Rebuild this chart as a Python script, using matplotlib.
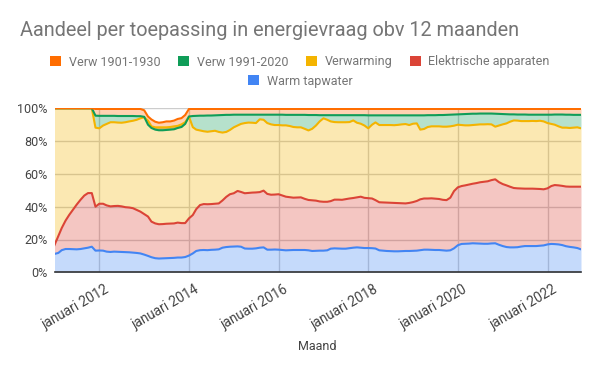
import numpy as np
import pandas as pd
import matplotlib
matplotlib.use('Agg')
import matplotlib.pyplot as plt
import matplotlib.transforms as mtransforms
from matplotlib.patches import Patch

plt.rcParams['font.family'] = ['Roboto', 'DejaVu Sans']

# maanden jan 2011 t/m okt 2022
maanden = pd.date_range('2011-01-01', '2022-10-01', freq='MS')

warm_tapwater = [
    11.2, 11.8, 13.5, 14.2, 14.2, 14.1, 14.0, 14.2, 14.6, 15.0, 15.6, 13.2,
    13.3, 13.2, 12.6, 12.4, 12.6, 12.5, 12.4, 12.3, 12.2, 12.0, 11.8, 11.5,
    10.8, 10.0, 9.2, 8.6, 8.4, 8.5, 8.6, 8.7, 8.8, 9.0, 9.0, 9.3,
    10.2, 11.5, 13.0, 13.5, 13.6, 13.5, 13.7, 13.8, 14.0, 15.0, 15.4, 15.6,
    15.7, 15.8, 15.6, 14.5, 14.4, 14.4, 14.6, 15.0, 15.2, 13.8, 13.8, 13.9,
    13.8, 13.6, 13.4, 13.5, 13.6, 13.6, 13.6, 13.6, 13.4, 13.0, 13.1, 13.2,
    13.2, 13.4, 14.4, 14.6, 14.5, 14.4, 14.4, 14.7, 15.0, 15.2, 15.0, 14.8,
    14.8, 14.7, 14.5, 13.4, 13.2, 13.0, 12.9, 12.8, 12.8, 12.9, 13.0, 13.0,
    13.1, 13.2, 13.5, 13.8, 13.8, 13.7, 13.6, 13.6, 13.4, 13.2, 13.4, 14.6,
    16.5, 17.3, 17.4, 17.5, 17.7, 17.6, 17.5, 17.4, 17.4, 17.6, 17.7, 16.8,
    16.0, 15.4, 15.2, 15.2, 15.3, 15.7, 16.0, 16.0, 16.0, 16.0, 16.2, 16.4,
    17.0, 17.3, 17.2, 17.0, 16.6, 15.9, 15.5, 15.2, 14.8, 14.0]

elektrische_apparaten = [
    5.4, 10.2, 13.5, 17.3, 20.8, 24.1, 27.3, 30.0, 32.2, 33.3, 32.7, 26.8,
    28.5, 28.6, 28.2, 27.8, 27.8, 28.0, 27.8, 27.4, 27.3, 27.1, 26.2, 25.5,
    24.7, 24.0, 21.7, 21.2, 20.9, 20.9, 21.0, 21.0, 21.0, 21.3, 21.0, 20.7,
    22.7, 23.4, 25.5, 27.5, 28.0, 28.0, 27.9, 28.0, 28.0, 28.8, 30.6, 32.0,
    32.5, 33.8, 33.4, 33.7, 34.0, 34.2, 34.1, 33.9, 34.6, 34.0, 33.5, 33.5,
    33.8, 33.2, 32.7, 32.3, 31.9, 32.0, 32.1, 31.2, 30.7, 30.9, 30.6, 30.0,
    29.8, 29.6, 29.0, 29.7, 29.8, 29.8, 30.2, 30.3, 30.3, 30.5, 31.1, 30.6,
    30.4, 30.3, 29.5, 29.3, 29.4, 29.5, 29.5, 29.5, 29.4, 29.2, 29.0, 29.3,
    29.7, 30.3, 31.0, 31.2, 31.2, 31.4, 31.3, 31.1, 30.8, 30.8, 32.1, 34.9,
    35.3, 35.3, 35.6, 36.0, 36.3, 36.8, 37.4, 37.8, 38.1, 38.6, 39.0, 38.2,
    37.8, 37.6, 37.0, 36.2, 35.9, 35.4, 35.0, 35.0, 35.0, 34.9, 34.6, 34.2,
    34.2, 35.3, 36.0, 36.0, 36.1, 36.4, 36.7, 37.0, 37.4, 38.2]

verwarming = [
    83.4, 78.0, 73.0, 68.5, 65.0, 61.8, 58.7, 55.8, 53.2, 51.7, 51.7, 48.2,
    46.0, 47.7, 49.7, 51.3, 51.1, 50.8, 51.0, 51.8, 52.5, 53.3, 55.0, 56.9,
    59.0, 58.5, 58.1, 58.6, 59.1, 59.0, 58.8, 58.9, 59.2, 59.0, 60.2, 61.5,
    62.0, 53.6, 48.5, 45.5, 44.4, 44.2, 44.4, 44.5, 43.6, 41.4, 39.6, 39.2,
    40.2, 39.9, 41.5, 42.8, 42.9, 42.6, 42.3, 44.4, 43.2, 43.2, 42.9, 42.4,
    42.2, 42.8, 43.5, 43.4, 43.1, 42.8, 42.7, 42.7, 42.4, 43.6, 45.8, 48.8,
    50.9, 50.0, 48.6, 47.3, 47.2, 47.3, 46.9, 46.6, 47.3, 45.5, 44.5, 44.1,
    42.6, 45.0, 47.4, 47.1, 47.2, 47.3, 47.4, 47.4, 47.7, 48.1, 48.4, 47.5,
    47.8, 47.3, 42.5, 42.4, 43.6, 43.9, 44.1, 44.3, 44.6, 44.8, 43.5, 39.9,
    38.2, 37.2, 36.6, 36.1, 35.8, 35.6, 35.3, 35.0, 34.8, 34.0, 32.1, 34.5,
    36.4, 37.8, 39.6, 41.2, 41.3, 41.1, 41.2, 41.2, 41.3, 41.3, 41.6, 41.4,
    39.8, 37.9, 36.8, 36.0, 35.5, 35.9, 35.8, 36.0, 36.2, 35.6]

verw_1991_2020 = [
    0, 0, 0, 0, 0, 0, 0, 0, 0, 0, 0, 7.3,
    7.6, 5.9, 4.9, 3.9, 3.9, 4.0, 4.1, 3.8, 3.3, 2.9, 2.2, 1.3,
    0.3, -2.5, -1.0, -1.4, -1.8, -1.8, -1.6, -1.6, -1.8, -1.3, -1.6, -1.0,
    0.1, 6.8, 8.4, 9.0, 9.5, 9.9, 9.6, 9.4, 10.2, 10.7, 10.4, 9.2,
    7.7, 6.6, 5.6, 5.1, 4.8, 4.9, 5.1, 2.8, 3.1, 5.1, 5.9, 6.3,
    6.3, 6.5, 6.4, 6.8, 7.4, 7.6, 7.6, 8.5, 9.4, 8.4, 6.4, 3.8,
    1.9, 2.8, 3.8, 4.2, 4.3, 4.3, 4.3, 4.2, 3.2, 4.6, 5.2, 6.3,
    7.9, 5.7, 4.3, 5.9, 5.9, 5.9, 5.9, 6.0, 5.8, 5.5, 5.3, 5.9,
    5.1, 4.9, 8.7, 8.3, 7.2, 6.8, 6.8, 6.9, 7.1, 7.2, 7.1, 6.8,
    6.3, 6.6, 6.9, 7.0, 6.9, 6.7, 6.6, 6.6, 6.5, 6.6, 7.9, 7.1,
    6.3, 5.6, 4.5, 3.7, 3.7, 4.0, 4.0, 3.9, 3.8, 3.9, 3.7, 4.1,
    5.1, 5.6, 6.2, 7.2, 8.0, 7.9, 8.1, 7.8, 7.6, 8.2]

verw_1901_1930 = [
    0, 0, 0, 0, 0, 0, 0, 0, 0, 0, 0, 4.1,
    4.2, 4.2, 4.2, 4.2, 4.2, 4.3, 4.3, 4.3, 4.3, 4.3, 4.4, 4.4,
    4.0, 5.0, 5.2, 4.8, 4.6, 4.9, 5.2, 5.0, 5.3, 5.5, 5.4, 5.4,
    4.6, 4.3, 4.2, 4.1, 4.1, 4.0, 4.0, 3.9, 3.8, 3.7, 3.6, 3.6,
    3.5, 3.5, 3.5, 3.5, 3.5, 3.5, 3.5, 3.5, 3.5, 3.5, 3.5, 3.5,
    3.5, 3.5, 3.6, 3.6, 3.6, 3.6, 3.6, 3.6, 3.7, 3.7, 3.7, 3.8,
    3.8, 3.8, 3.8, 3.8, 3.8, 3.8, 3.8, 3.8, 3.8, 3.8, 3.8, 3.8,
    3.9, 3.9, 3.9, 3.9, 3.9, 3.9, 3.9, 3.9, 3.9, 3.9, 3.9, 3.9,
    3.9, 3.9, 3.9, 3.9, 3.8, 3.8, 3.8, 3.7, 3.7, 3.6, 3.5, 3.4,
    3.3, 3.2, 3.1, 3.0, 2.9, 2.9, 2.8, 2.8, 2.8, 2.8, 2.9, 3.0,
    3.1, 3.2, 3.3, 3.3, 3.4, 3.4, 3.4, 3.5, 3.5, 3.5, 3.5, 3.5,
    3.5, 3.5, 3.4, 3.4, 3.4, 3.5, 3.5, 3.6, 3.6, 3.6]

reeksen = ['Warm tapwater', 'Elektrische apparaten', 'Verwarming',
           'Verw 1991-2020', 'Verw 1901-1930']
kleuren = ['#4285F4', '#DB4437', '#F4B400', '#0F9D58', '#FF6D00']
tick_jaren = [2012, 2014, 2016, 2018, 2020, 2022]
y_ticks = [0, 20, 40, 60, 80, 100]

waarden = np.array([warm_tapwater, elektrische_apparaten, verwarming,
                    verw_1991_2020, verw_1901_1930])
boven = np.cumsum(waarden, axis=0)
onder = np.vstack([np.zeros(len(maanden)), boven[:-1]])

fig = plt.figure(figsize=(6, 3.71), dpi=100)
ax = fig.add_axes([54.5 / 600, (371 - 272.3) / 371,
                   (581 - 54.5) / 600, (272.3 - 108.3) / 371])

# gestapelde vlakken, daarna de lijnen
for k in range(len(reeksen)):
    ax.fill_between(maanden, onder[k], boven[k], color=kleuren[k],
                    alpha=0.3, lw=0, zorder=2)
for k in range(len(reeksen)):
    ax.plot(maanden, boven[k], color=kleuren[k], lw=1.5, zorder=3)

ax.set_xlim(maanden[0], maanden[-1])
ax.set_ylim(0, 100)
ax.set_yticks(y_ticks)
ax.set_yticklabels([f'{v}%' for v in y_ticks])
ax.set_xticks([pd.Timestamp(j, 1, 1) for j in tick_jaren])
ax.set_xticklabels([f'januari {j}' for j in tick_jaren], rotation=30,
                   ha='right', va='top', rotation_mode='anchor')
ax.tick_params(axis='both', length=0, labelsize=9, labelcolor='#444444')
ax.tick_params(axis='x', pad=7, labelsize=9.8)
ax.tick_params(axis='y', pad=5)
verschuif = mtransforms.ScaledTranslation(0.05, 0, fig.dpi_scale_trans)
for lab in ax.get_xticklabels():
    lab.set_transform(lab.get_transform() + verschuif)
ax.grid(True, color='#cccccc', lw=1, zorder=0)
ax.set_axisbelow(True)
for s in ['top', 'right', 'left']:
    ax.spines[s].set_visible(False)
ax.spines['bottom'].set_color('#333333')
ax.spines['bottom'].set_linewidth(1.2)
ax.spines['bottom'].set_zorder(4)

fig.text(20 / 600, 1 - 31 / 371,
         'Aandeel per toepassing in energievraag obv 12 maanden',
         fontsize=14.3, color='#757575', ha='left', va='center')
fig.text(0.528, 1 - 346 / 371, 'Maand', fontsize=9, color='#444444',
         ha='center', va='center')

handles = [Patch(facecolor=c, edgecolor='none') for c in kleuren]
volgorde = [4, 3, 2, 1]
fig.legend([handles[k] for k in volgorde], [reeksen[k] for k in volgorde],
           loc='center', bbox_to_anchor=(0.5, 1 - 62 / 371), ncol=4,
           frameon=False, fontsize=9, handlelength=0.9, handleheight=0.9,
           handletextpad=0.6, columnspacing=1.4, labelcolor='#757575')
fig.legend([handles[0]], [reeksen[0]],
           loc='center', bbox_to_anchor=(0.5, 1 - 81 / 371), ncol=1,
           frameon=False, fontsize=9, handlelength=0.9, handleheight=0.9,
           handletextpad=0.6, labelcolor='#757575')

fig.savefig('out.png', dpi=100)
